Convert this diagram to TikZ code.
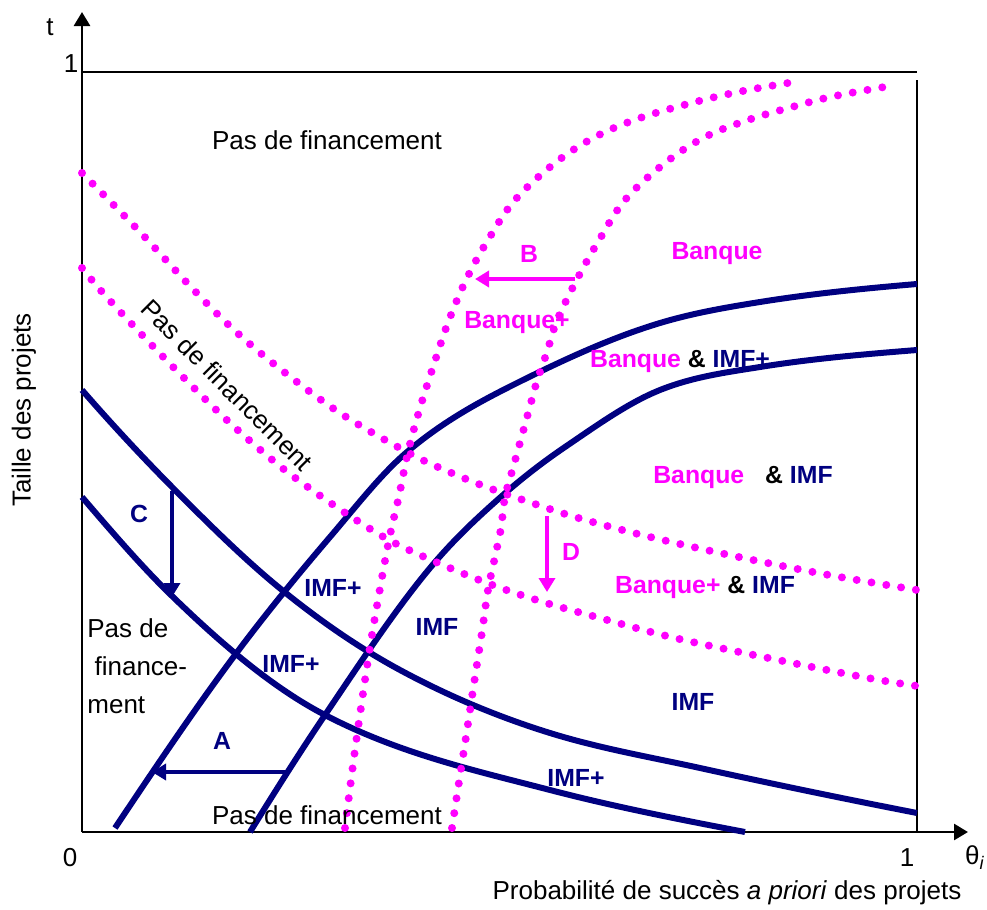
\documentclass[tikz,border=0pt]{standalone}
\usepackage{fontspec}
\setmainfont{Liberation Sans}
\usepackage{xcolor}
\usepackage{tikz}
\usetikzlibrary{arrows.meta, positioning}

\definecolor{imfblue}{RGB}{0,0,128}
\definecolor{bankpink}{RGB}{255,0,255}

\begin{document}
\begin{tikzpicture}[
		x=0.5pt, y=-0.5pt,
		% Defining line styles
		axis/.style={line width=1.3pt, draw=black},
		axisarrow/.style={axis, -{Triangle[length=7pt, width=8pt]}},
		imfcurve/.style={line width=3pt, draw=imfblue},
		bankcurve/.style={line width=4pt, draw=bankpink, line cap=round, dash pattern=on 0pt off 7.5pt},
		imfshift/.style={line width=2pt, draw=imfblue, -{Triangle[length=7pt, width=8pt]}},
		bankshift/.style={line width=2pt, draw=bankpink, -{Triangle[length=7pt, width=8pt]}},
		% Defining text styles
		plaintext/.style={font=\fontsize{13}{19}\selectfont, inner sep=0pt},
		imflabel/.style={font=\fontsize{12.4}{15}\selectfont\bfseries, text=imfblue, inner sep=0pt},
		banklabel/.style={font=\fontsize{12.4}{15}\selectfont\bfseries, text=bankpink, inner sep=0pt},
		mixlabel/.style={font=\fontsize{12.4}{15}\selectfont\bfseries, text=black, inner sep=0pt}
	]
	\useasboundingbox (0,0) rectangle (987,910);

	% Axes and frame
	\coordinate (O) at (82,832);
	\coordinate (tTip) at (82,12);
	\coordinate (thetaTip) at (968,832);
	\coordinate (topL) at (82,72);
	\coordinate (topR) at (917,72);
	\coordinate (rightTop) at (917,80);
	\coordinate (rightBot) at (917,832);
	\draw[axisarrow] (O) -- (tTip);
	\draw[axisarrow] (O) -- (thetaTip);
	\draw[axis] (topL) -- (topR);
	\draw[axis] (rightTop) -- (rightBot);

	% Axis labels
	\node[plaintext] (tlab) at (50,27) {t};
	\node[plaintext, anchor=base] (onetop) at (71,72) {1};
	\node[plaintext] (zero) at (70,858) {0};
	\node[plaintext] (onebot) at (907,858) {1};
	\node[plaintext] (theta) at (975,858) {θ\textsubscript{\textit{i}}};
	\node[plaintext] (xlab) at (727,893) {Probabilité de succès \textit{a priori} des projets};
	\node[plaintext, rotate=90] (ylab) at (24,410) {Taille des projets};

	% IMF frontiers (solid)
	\draw[imfcurve] (82,390) .. controls (112,424.5) and (142,456.7) .. (172,487)
		.. controls (208.7,524) and (245.3,560.3) .. (282,590)
		.. controls (321.3,621.9) and (360.7,648.8) .. (400,670)
		.. controls (450,697) and (500,717.5) .. (550,733)
		.. controls (600,748.5) and (650,757) .. (700,768)
		.. controls (772.3,783.9) and (844.7,798.9) .. (917,813);
	\draw[imfcurve] (82,497) .. controls (112,532.1) and (142,566.9) .. (172,596)
		.. controls (223,645.5) and (274,688.5) .. (325,715)
		.. controls (400,754) and (475,770.5) .. (550,790)
		.. controls (615,806.9) and (680,819.6) .. (745,832);
	\draw[imfcurve] (115,828) .. controls (155,768) and (195,708.6) .. (235,655)
		.. controls (266.7,612.6) and (298.3,574.1) .. (330,537)
		.. controls (355.7,507) and (381.3,473.8) .. (407,452)
		.. controls (443.7,420.8) and (480.3,401.3) .. (517,383)
		.. controls (564.7,359.2) and (612.3,337.3) .. (660,323)
		.. controls (693.3,313) and (726.7,307.3) .. (760,302)
		.. controls (812.3,293.6) and (864.7,288.4) .. (917,284);
	\draw[imfcurve] (250,832) .. controls (275,791.5) and (300,752) .. (325,715)
		.. controls (360,663.2) and (395,610) .. (430,568)
		.. controls (454.3,538.8) and (478.7,516.4) .. (503,495)
		.. controls (523.7,476.8) and (544.3,461.1) .. (565,447)
		.. controls (596.7,425.5) and (628.3,402.7) .. (660,390)
		.. controls (693.3,376.7) and (726.7,372.3) .. (760,367)
		.. controls (812.3,358.6) and (864.7,354.2) .. (917,350);

	% Bank frontiers (dotted)
	\draw[bankcurve] plot[smooth, tension=0.6] coordinates {(345,828) (355,750) (368,660) (378,600) (389,540) (399,496) (408,452) (420,408) (434,364) (449,320) (467,278) (488,240) (515,200) (555,163) (595,137) (640,118) (699,101) (743,91) (788,83)};
	\draw[bankcurve] plot[smooth, tension=0.6] coordinates {(452,828) (459,782) (466,737) (475,677) (482,632) (488,590) (495,557) (501,528) (505,497) (513,468) (521,439) (529,410) (537,381) (547,352) (556,323) (569,295) (582,270) (598,242) (625,200) (665,163) (705,137) (748,120) (792,107) (835,96) (896,85)};
	\draw[bankcurve] plot[smooth, tension=0.6] coordinates {(82,173) (140,232) (190,286) (233,329) (279,368) (340,413) (407,452) (447,471) (489,488) (532,503) (575,517) (634,533) (693,547) (753,560) (813,572) (857,580) (917,590)};
	\draw[bankcurve] plot[smooth, tension=0.6] coordinates {(82,268) (103,293) (144,337) (187,381) (230,423) (276,463) (312,490) (350,516) (389,540) (429,559) (487,583) (543,602) (600,618) (675,638) (778,660) (868,678) (917,686)};

	% Shifts of the frontiers
	\coordinate (A1) at (288,772);
	\coordinate (A2) at (152,772);
	\coordinate (B1) at (575,279);
	\coordinate (B2) at (475,279);
	\coordinate (C1) at (172,491);
	\coordinate (C2) at (172,597);
	\coordinate (D1) at (547,516);
	\coordinate (D2) at (547,592);
	\draw[imfshift] (A1) -- (A2);
	\draw[bankshift] (B1) -- (B2);
	\draw[imfshift] (C1) -- (C2);
	\draw[bankshift] (D1) -- (D2);

	% Region labels
	\node[plaintext] (nofinTop) at (327,140) {Pas de financement};
	\node[plaintext, rotate=-45] (nofinDiag) at (227,385) {Pas de financement};
	\node[plaintext, align=left, anchor=north west] (nofinLeft) at (87,618) {Pas de\\ \ finance-\\ment};
	\node[plaintext] (nofinBot) at (327,815) {Pas de financement};

	\node[banklabel] (labB) at (529,254) {B};
	\node[banklabel] (bank) at (717,254) {Banque};
	\node[banklabel] (bankPlus) at (517,323) {Banque+};
	\node[mixlabel] (bankImfPlus) at (680,361) {\textcolor{bankpink}{Banque} \& \textcolor{imfblue}{IMF+}};
	\node[mixlabel] (bankImf) at (743,477) {\textcolor{bankpink}{Banque}\hspace{7pt} \& \textcolor{imfblue}{IMF}};
	\node[banklabel] (labD) at (571,552) {D};
	\node[mixlabel] (bankPlusImf) at (705,587) {\textcolor{bankpink}{Banque+} \& \textcolor{imfblue}{IMF}};

	\node[imflabel] (labC) at (139,514) {C};
	\node[imflabel] (imfPlusA) at (333,588) {IMF+};
	\node[imflabel] (imfA) at (437,627) {IMF};
	\node[imflabel] (imfPlusB) at (291,664) {IMF+};
	\node[imflabel] (imfB) at (693,702) {IMF};
	\node[imflabel] (labA) at (222,741) {A};
	\node[imflabel] (imfPlusC) at (576,778) {IMF+};

\end{tikzpicture}
\end{document}
